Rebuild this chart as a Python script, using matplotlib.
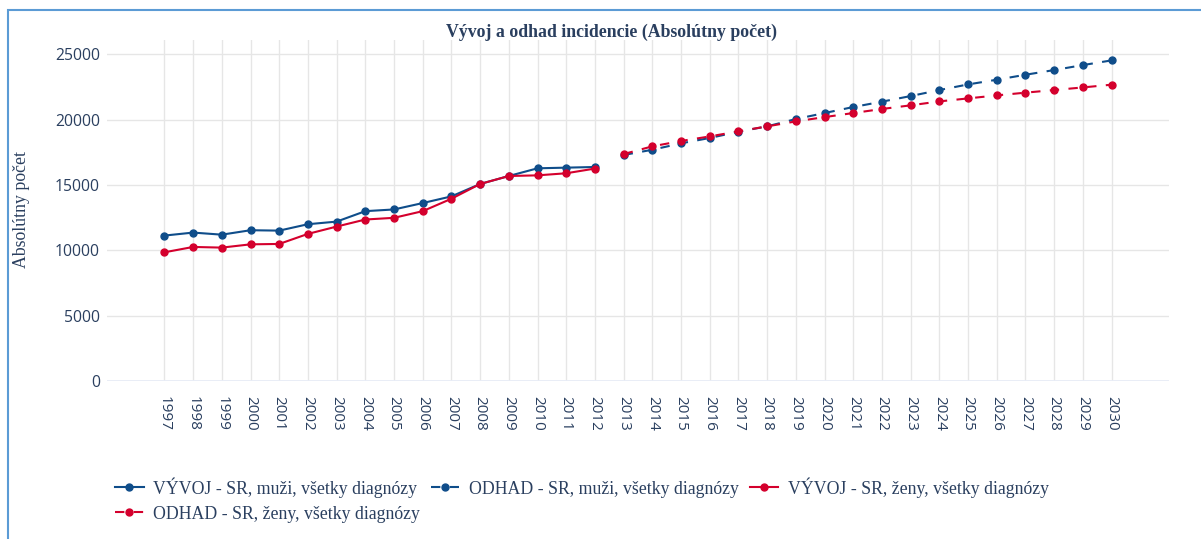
import matplotlib.pyplot as plt
from matplotlib.patches import Rectangle

#%% Data
years_hist = list(range(1997, 2013))
years_proj = list(range(2013, 2031))

muzi_vyvoj = [11130, 11360, 11200, 11540, 11510, 12000, 12200, 13000, 13130, 13620,
              14130, 15080, 15690, 16280, 16330, 16380]
zeny_vyvoj = [9850, 10260, 10210, 10460, 10490, 11260, 11820, 12360, 12490, 13000,
              13950, 15080, 15690, 15740, 15900, 16260]
muzi_odhad = [17300, 17700, 18190, 18600, 19080, 19490, 20050, 20510, 20970, 21380,
              21810, 22270, 22700, 23060, 23440, 23800, 24180, 24540]
zeny_odhad = [17370, 17960, 18370, 18720, 19110, 19490, 19870, 20200, 20510, 20820,
              21100, 21400, 21630, 21860, 22070, 22270, 22470, 22680]

labels = ['VÝVOJ - SR, muži, všetky diagnózy', 'ODHAD - SR, muži, všetky diagnózy',
          'VÝVOJ - SR, ženy, všetky diagnózy', 'ODHAD - SR, ženy, všetky diagnózy']
y_ticks = [0, 5000, 10000, 15000, 20000, 25000]

#%% Style
blue = '#0f4d8a'
red = '#d4002d'
text_col = '#2a3f5f'
grid_col = '#e6e6e6'
serif = 'Liberation Serif'
dash = (0, (4.5, 4.5))

fig = plt.figure(figsize=(12.01, 5.39), dpi=100)
ax = fig.add_axes([107 / 1201, 1 - 381 / 539, (1169 - 107) / 1201, (381 - 40) / 539])

l1, = ax.plot(years_hist, muzi_vyvoj, color=blue, lw=1.5, marker='o', ms=5, zorder=3)
l2, = ax.plot(years_proj, muzi_odhad, color=blue, lw=1.5, ls=dash, marker='o', ms=5, zorder=3)
l3, = ax.plot(years_hist, zeny_vyvoj, color=red, lw=1.5, marker='o', ms=5, zorder=4)
l4, = ax.plot(years_proj, zeny_odhad, color=red, lw=1.5, ls=dash, marker='o', ms=5, zorder=4)

# Axes
ax.set_xlim(1995, 2032)
ax.set_ylim(0, 26100)
ax.set_xticks(years_hist + years_proj)
ax.set_xticklabels([str(y) for y in years_hist + years_proj], rotation=-90,
                   fontfamily='Open Sans', fontsize=11, color=text_col)
ax.set_yticks(y_ticks)
ax.set_yticklabels([str(v) for v in y_ticks], fontfamily='Open Sans', fontsize=11.3, color=text_col)
ax.tick_params(axis='x', length=0, pad=11)
ax.tick_params(axis='y', length=0, pad=5)
for s in ax.spines.values():
    s.set_visible(False)
ax.grid(True, color=grid_col, lw=1)
ax.set_axisbelow(True)
ax.axhline(0, color='#e8ecf6', lw=2, zorder=1)

# Texts
fig.text(612 / 1201, 1 - 32 / 539, 'Vývoj a odhad incidencie (Absolútny počet)', ha='center', va='center',
         fontfamily=serif, fontweight='bold', fontsize=12.8, color=text_col)
fig.text(22 / 1201, 1 - 210 / 539, 'Absolútny počet', rotation=90, ha='center', va='center',
         fontfamily=serif, fontsize=12.8, color=text_col)

# Legend (reordered so the rows read across)
handles = [l1, l4, l2, l3]
leg_labels = [labels[0], labels[3], labels[1], labels[2]]
fig.legend(handles, leg_labels, ncol=3, loc='upper left', bbox_to_anchor=(108 / 1201, 1 - 470 / 539),
           frameon=False, prop={'family': serif, 'size': 12.8}, labelcolor=text_col,
           handlelength=1.6, handletextpad=0.55, columnspacing=0.6, labelspacing=0.45, borderaxespad=0)

# Frame around chart
fig.patches.append(Rectangle((8 / 1201, -0.1), 1.2, 1.1 - 10 / 539, transform=fig.transFigure,
                             fill=False, edgecolor='#5b9bd5', lw=1.5))

fig.savefig('out.png', dpi=100)
